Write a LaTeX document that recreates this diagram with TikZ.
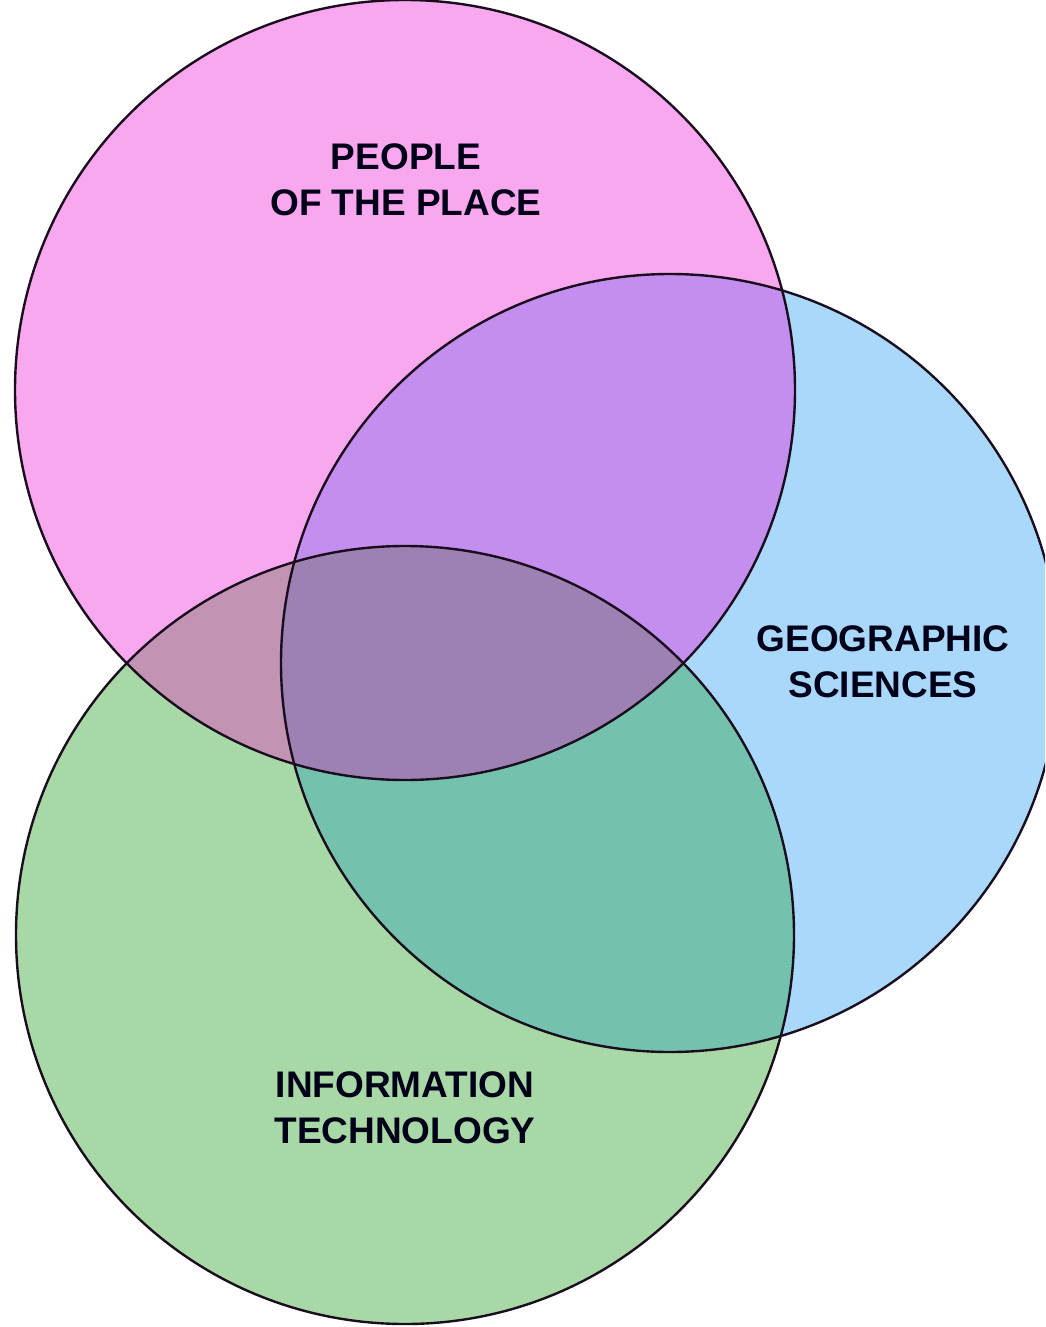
\documentclass[tikz,border=0pt]{standalone}
\usepackage{fontspec}
\setmainfont{Liberation Sans}
\definecolor{peoplecol}{HTML}{F9A7EE}
\definecolor{geocol}{HTML}{AAD8FA}
\definecolor{infocol}{HTML}{A9D8A7}
\definecolor{peoplegeocol}{HTML}{C38EEE}
\definecolor{peopleinfocol}{HTML}{C393B4}
\definecolor{geoinfocol}{HTML}{74C2AE}
\definecolor{allcol}{HTML}{9E81B3}
\definecolor{rimcol}{HTML}{1A0E1E}
\tikzset{
  rim/.style={draw=rimcol,line width=1.2pt},
  setlabel/.style={align=center,font=\fontsize{18.5}{23}\selectfont\bfseries,text=black!90!blue},
}
\begin{document}
\begin{tikzpicture}[x=0.5pt,y=-0.5pt]
  \useasboundingbox (0,0) rectangle (1045,1327);
  \clip (0,0) rectangle (1045,1327);
%%
  \coordinate (people) at (405,390);
  \coordinate (geo) at (670,663);
  \coordinate (info) at (405,935);
  % Circle: People of the place
  \fill[peoplecol] (people) circle (390);
  % Circle: Geographic sciences
  \fill[geocol] (geo) circle (389);
  % Circle: Information technology
  \fill[infocol] (info) circle (389);
  % Overlap: people and geo
\begin{scope}
  \clip (people) circle (390);
  \fill[peoplegeocol] (geo) circle (389);
\end{scope}
  % Overlap: people and info
\begin{scope}
  \clip (people) circle (390);
  \fill[peopleinfocol] (info) circle (389);
\end{scope}
  % Overlap: geo and info
\begin{scope}
  \clip (geo) circle (389);
  \fill[geoinfocol] (info) circle (389);
\end{scope}
  % Overlap: all three
\begin{scope}
  \clip (people) circle (390);
  \clip (geo) circle (389);
  \fill[allcol] (info) circle (389);
\end{scope}
  % Outlines
  \draw[rim] (people) circle (390);
  \draw[rim] (geo) circle (389);
  \draw[rim] (info) circle (389);
  % Labels
  \node[setlabel] (peoplelbl) at (406,180) {PEOPLE\\OF THE PLACE};
  \node[setlabel] (geolbl) at (883,662) {GEOGRAPHIC\\SCIENCES};
  \node[setlabel] (infolbl) at (405,1108) {INFORMATION\\TECHNOLOGY};
%
\end{tikzpicture}
\end{document}
